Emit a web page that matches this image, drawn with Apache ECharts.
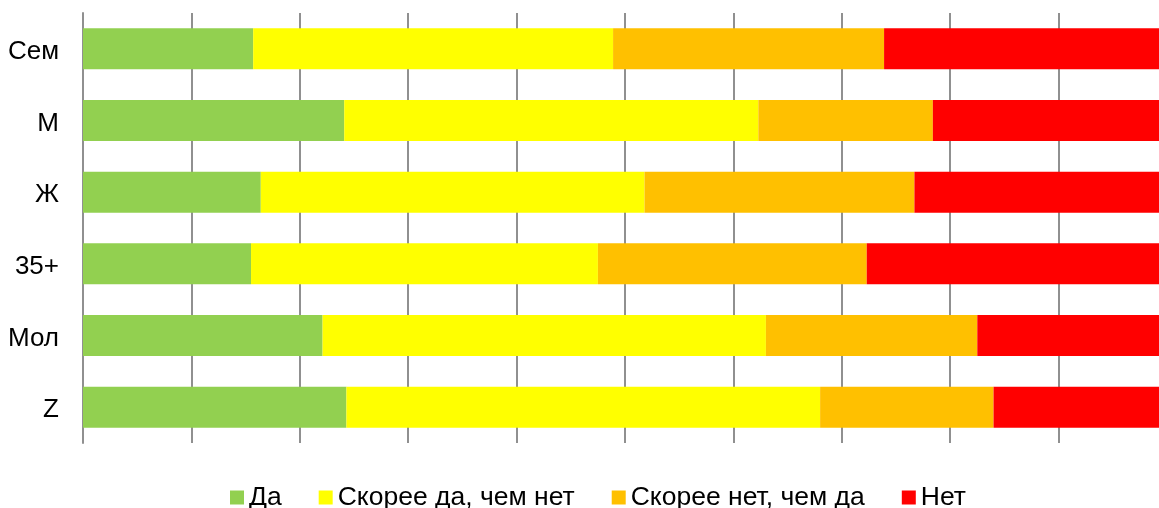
<!DOCTYPE html>
<html>
<head>
<meta charset="utf-8">
<script src="https://cdn.jsdelivr.net/npm/echarts@6/dist/echarts.min.js"></script>
<style>
  html, body { margin: 0; padding: 0; background: #fff; overflow: hidden; }
  /* a bit wider than the window: the original is cropped on the right */
  #chart { width: 1170px; height: 508px; }
</style>
</head>
<body>
<div id="chart"></div>
<script>
// groups, top to bottom
const categories = ['Сем', 'М', 'Ж', '35+', 'Мол', 'Z']
const seriesNames = ['Да', 'Скорее да, чем нет', 'Скорее нет, чем да', 'Нет']
// shares in %
const yes = [15.7, 24.1, 16.4, 15.5, 22.1, 24.3]
const ratherYes = [33.2, 38.2, 35.4, 32.0, 40.9, 43.7]
const ratherNo = [25.0, 16.1, 24.9, 24.8, 19.5, 16.0]
const no = [26.1, 21.6, 23.3, 27.7, 17.5, 16.0]
const colors = ['#92D050', '#FFFF00', '#FFC000', '#FF0000']

const chart = echarts.init(document.getElementById('chart'))
const font = 'Liberation Sans, Arial, sans-serif'

const values = [yes, ratherYes, ratherNo, no]

chart.setOption({
  animation: false,
  textStyle: { fontFamily: font },
  grid: { left: 83, right: 3, top: 13, bottom: 65 },
  legend: {
    left: 225,
    top: 479,
    icon: 'rect',
    itemWidth: 14,
    itemHeight: 14,
    itemGap: 37,
    textStyle: { fontSize: 26.5, color: '#000', fontFamily: font },
    data: seriesNames
  },
  xAxis: {
    type: 'value',
    min: 0,
    max: 100,
    interval: 10,
    axisLabel: { show: false },
    axisLine: { show: false },
    axisTick: { show: false },
    splitLine: { lineStyle: { color: '#909090', width: 2 } }
  },
  yAxis: {
    type: 'category',
    inverse: true,
    data: categories,
    axisTick: { show: false },
    axisLine: { lineStyle: { color: '#909090', width: 2 } },
    axisLabel: {
      fontSize: 26,
      color: '#000',
      margin: 24,
      fontFamily: font,
      // labels sit a few px lower than the bar centres in the original
      formatter: v => '{l|' + v + '}',
      rich: { l: { fontSize: 26, fontFamily: font, color: '#000', padding: [6, 0, 0, 0] } }
    }
  },
  series: seriesNames.map((name, i) => ({
    name: name,
    type: 'bar',
    stack: 'all',
    barWidth: 41,
    itemStyle: { color: colors[i] },
    data: values[i]
  }))
})
</script>
</body>
</html>
